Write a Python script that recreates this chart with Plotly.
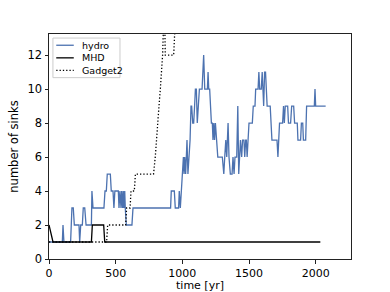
import plotly.graph_objects as go

# ---- data ----
hydro_t = [0, 100, 105, 112, 162, 172, 182, 190, 225, 230, 238, 250, 257, 268, 278, 318, 322, 330,
           412, 420, 430, 437, 460, 467, 480, 487, 494, 520, 525, 532, 540, 545, 552, 557, 562, 568,
           572, 580, 622, 630, 912, 917, 940, 947, 972, 977, 985, 992, 997, 1003, 1008, 1013, 1018,
           1025, 1030, 1035, 1042, 1050, 1058, 1065, 1070, 1078, 1085, 1092, 1098, 1105, 1112, 1120,
           1128, 1148, 1155, 1160, 1168, 1188, 1193, 1198, 1205, 1210, 1218, 1225, 1230, 1236, 1242,
           1248, 1255, 1260, 1266, 1300, 1311, 1318, 1326, 1333, 1343, 1350, 1360, 1373, 1380, 1388,
           1395, 1408, 1416, 1423, 1436, 1445, 1452, 1462, 1468, 1475, 1480, 1486, 1500, 1525, 1532,
           1545, 1550, 1568, 1574, 1580, 1592, 1599, 1604, 1610, 1617, 1624, 1630, 1636, 1659, 1664,
           1672, 1710, 1717, 1729, 1752, 1759, 1765, 1772, 1790, 1796, 1812, 1820, 1835, 1842, 1862,
           1867, 1887, 1893, 1903, 1908, 1925, 1932, 1990, 1995, 2000, 2075]
hydro_v = [1, 1, 2, 1, 1, 3, 3, 2, 2, 1, 2, 2, 3, 3, 2, 2, 4, 3,
           3, 4, 4, 5, 5, 4, 4, 3, 4, 4, 3, 4, 3, 4, 3, 4, 3, 4,
           3, 2, 2, 3, 3, 4, 4, 3, 3, 4, 3, 4, 5, 6, 6, 5, 6,
           5, 7, 7, 5, 6, 7, 9, 9, 8, 8, 9, 10, 10, 8, 9,
           10, 10, 12, 12, 10, 10, 11, 10, 10, 9, 8, 8, 7, 8, 7,
           8, 7, 7, 6, 6, 5, 6, 7, 6, 8, 6, 5, 5, 6, 5,
           6, 6, 9, 5, 7, 6, 7, 7, 6, 7, 7, 6, 8, 8, 9,
           9, 10, 10, 11, 10, 10, 11, 10, 9, 11, 11, 10, 9, 9, 8,
           7, 7, 6, 8, 8, 9, 8, 9, 9, 8, 8, 9, 9, 8, 8,
           7, 7, 8, 8, 7, 7, 9, 9, 10, 9, 9]

mhd_t = [0, 30, 318, 325, 410, 418, 2035]
mhd_v = [2, 1, 1, 2, 2, 1, 1]

gadget_t = [0, 432, 440, 575, 582, 608, 615, 640, 648, 784, 797, 805, 815, 825, 835, 845, 852,
            860, 868, 872, 935, 947, 960]
gadget_v = [1, 1, 2, 2, 3, 3, 4, 4, 5, 5, 6, 7, 8, 9, 10, 11, 12,
            14, 14, 12, 12, 14, 15]

series_names = ["hydro", "MHD", "Gadget2"]
x_ticks = [0, 500, 1000, 1500, 2000]
y_ticks = [0, 2, 4, 6, 8, 10, 12]

FONT = "DejaVu Sans"
styles = [dict(color="#4c72b0", width=1.3),
          dict(color="black", width=1.3),
          dict(color="black", width=1.3, dash="1.3px,2px")]

fig = go.Figure()
for name, xs, ys, st in zip(series_names, [hydro_t, mhd_t, gadget_t],
                            [hydro_v, mhd_v, gadget_v], styles):
    fig.add_trace(go.Scatter(x=xs, y=ys, mode="lines", name=name, line=st,
                             showlegend=False))

# compact matplotlib-style legend (upper left, inside the axes)
fig.add_shape(type="rect", xref="paper", yref="paper", x0=0.013, x1=0.235,
              y0=0.806, y1=0.982, line=dict(color="#cccccc", width=1),
              fillcolor="rgba(255,255,255,0.8)", layer="above")
for i, (name, st) in enumerate(zip(series_names, styles)):
    yy = 0.950 - i * 0.056
    fig.add_shape(type="line", xref="paper", yref="paper", x0=0.024, x1=0.082,
                  y0=yy, y1=yy, line=st, layer="above")
    fig.add_annotation(xref="paper", yref="paper", x=0.102, y=yy, text=name,
                       showarrow=False, xanchor="left", yanchor="middle",
                       font=dict(family=FONT, size=9.5, color="black"))

axis_common = dict(showgrid=False, zeroline=False, showline=True, linecolor="#222",
                   linewidth=1, mirror=True, ticks="outside", ticklen=3.5, tickwidth=1,
                   tickcolor="#222", automargin=False,
                   tickfont=dict(family=FONT, size=11.5, color="black"))

fig.update_layout(
    width=390, height=292,
    margin=dict(l=49, r=39, t=34, b=33),
    paper_bgcolor="white", plot_bgcolor="white",
    font=dict(family=FONT, color="black"),
    xaxis=dict(range=[0, 2265], tickvals=x_ticks,
               title=dict(text="time [yr]", font=dict(family=FONT, size=11), standoff=3),
               **axis_common),
    yaxis=dict(range=[0, 13.24], tickvals=y_ticks,
               title=dict(text="number of sinks", font=dict(family=FONT, size=11.5), standoff=6),
               **axis_common),
)
fig.update_xaxes(tickfont=dict(size=11))

fig.write_html("out.html", config={"displayModeBar": False},
               post_script="document.body.style.margin='0';")
